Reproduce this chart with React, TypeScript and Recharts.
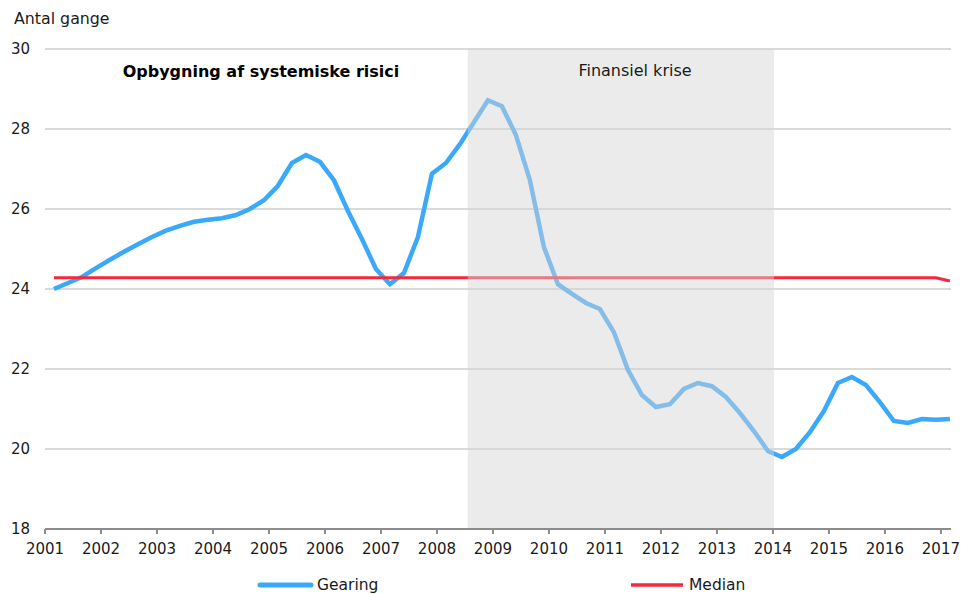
import { LineChart, Line, XAxis, YAxis, CartesianGrid, ReferenceArea } from "recharts"

// quarterly observations, first one sits just after the 2001 tick
const firstQuarter = 2001.16

const gearing = [
  24.0, 24.15, 24.3, 24.52, 24.73, 24.93, 25.12, 25.3, 25.46, 25.58,
  25.68, 25.73, 25.77, 25.85, 26.0, 26.22, 26.58, 27.15, 27.35, 27.18,
  26.72, 25.95, 25.25, 24.5, 24.12, 24.4, 25.3, 26.88, 27.15, 27.62,
  28.17, 28.72, 28.57, 27.85, 26.72, 25.05, 24.12, 23.88, 23.65, 23.5,
  22.92, 21.98, 21.35, 21.05, 21.12, 21.5, 21.65, 21.57, 21.3, 20.9,
  20.45, 19.95, 19.8, 20.0, 20.42, 20.95, 21.65, 21.8, 21.6, 21.17,
  20.7, 20.65, 20.75, 20.73, 20.75,
]

const median = [
  24.28, 24.28, 24.28, 24.28, 24.28, 24.28, 24.28, 24.28, 24.28, 24.28,
  24.28, 24.28, 24.28, 24.28, 24.28, 24.28, 24.28, 24.28, 24.28, 24.28,
  24.28, 24.28, 24.28, 24.28, 24.28, 24.28, 24.28, 24.28, 24.28, 24.28,
  24.28, 24.28, 24.28, 24.28, 24.28, 24.28, 24.28, 24.28, 24.28, 24.28,
  24.28, 24.28, 24.28, 24.28, 24.28, 24.28, 24.28, 24.28, 24.28, 24.28,
  24.28, 24.28, 24.28, 24.28, 24.28, 24.28, 24.28, 24.28, 24.28, 24.28,
  24.28, 24.28, 24.28, 24.28, 24.2,
]

const yearTicks = [2001, 2002, 2003, 2004, 2005, 2006, 2007, 2008, 2009, 2010, 2011, 2012, 2013, 2014, 2015, 2016, 2017]
const valueTicks = [18, 20, 22, 24, 26, 28, 30]
const crisis = { from: 2008.55, to: 2014.02 }

const data = gearing.map((g, i) => ({ t: firstQuarter + i * 0.25, gearing: g, median: median[i] }))

const font = "'DejaVu Sans', Verdana, sans-serif"
const blue = "#3ba9f9"
const red = "#f5283c"

export default function App() {
  return (
    <div style={{ position: "absolute", left: 0, top: 0, width: 963, height: 594, fontFamily: font, background: "#fff" }}>
      <LineChart width={963} height={594} data={data} margin={{ top: 49, right: 12, bottom: 35, left: 0 }}>
        <CartesianGrid vertical={false} stroke="#dadada" strokeWidth={2} />
        <Line
          type="linear"
          dataKey="gearing"
          stroke={blue}
          strokeWidth={4.5}
          dot={false}
          isAnimationActive={false}
        />
        <Line
          type="linear"
          dataKey="median"
          stroke={red}
          strokeWidth={3}
          dot={false}
          isAnimationActive={false}
        />
        <ReferenceArea
          x1={crisis.from}
          x2={crisis.to}
          y1={18}
          y2={30}
          fill="#d4d4d4"
          fillOpacity={0.47}
          stroke="none"
          zIndex={450}
        />
        <XAxis
          dataKey="t"
          type="number"
          domain={[2001, 2017.18]}
          ticks={yearTicks}
          interval={0}
          height={30}
          stroke="#8c8c8c"
          strokeWidth={2}
          tickSize={5}
          tickMargin={9}
          tick={{ fontSize: 15, fill: "#1a1a1a", fontFamily: font }}
        />
        <YAxis
          type="number"
          domain={[18, 30]}
          ticks={valueTicks}
          width={45}
          axisLine={false}
          tickLine={false}
          tickSize={6}
          tickMargin={9}
          tick={{ fontSize: 15, fill: "#1a1a1a", fontFamily: font }}
        />
      </LineChart>
      <svg width={963} height={594} style={{ position: "absolute", left: 0, top: 0, pointerEvents: "none" }}>
        <text x={14} y={24} fontSize={15.8} fill="#1a1a1a" fontFamily={font}>Antal gange</text>
        <text x={261} y={77} fontSize={16} fontWeight="bold" fill="#000" textAnchor="middle" fontFamily={font}>
          Opbygning af systemiske risici
        </text>
        <text x={635} y={76} fontSize={16} fill="#1a1a1a" textAnchor="middle" fontFamily={font}>Finansiel krise</text>
        <line x1={260} x2={311} y1={585} y2={585} stroke={blue} strokeWidth={5} strokeLinecap="round" />
        <text x={317} y={590} fontSize={15.5} fill="#1a1a1a" fontFamily={font}>Gearing</text>
        <line x1={631} x2={683} y1={585} y2={585} stroke={red} strokeWidth={3.5} />
        <text x={689} y={590} fontSize={15.5} fill="#1a1a1a" fontFamily={font}>Median</text>
      </svg>
    </div>
  )
}
